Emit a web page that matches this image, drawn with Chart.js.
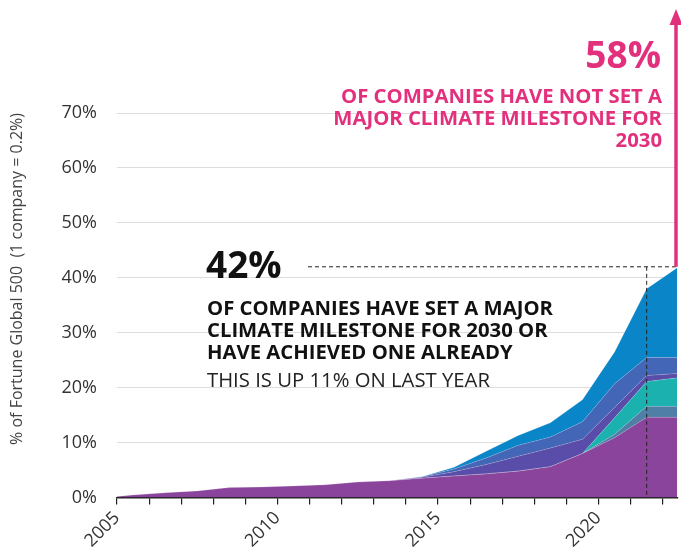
<!DOCTYPE html>
<html>
<head>
<meta charset="utf-8">
<script src="https://cdn.jsdelivr.net/npm/chart.js@4/dist/chart.umd.min.js"></script>
<style>
    html, body { margin: 0; padding: 0; background: #fff; }
    #wrap { width: 681px; height: 560px; position: relative; }
</style>
</head>
<body>
<div id="wrap"><canvas id="chartMilestones"></canvas></div>
<script>
// Anos (pontos do gráfico) e séries empilhadas, em % das empresas
const anos = [2005, 2005.5, 2006.5, 2007.5, 2008.5, 2009.5, 2010.5, 2011.5, 2012.5, 2013.5, 2014.5, 2015.5, 2016.5, 2017.5, 2018.5, 2019.5, 2020.5, 2021.5, 2022.5];
const serieRoxa = [0.2, 0.45, 0.85, 1.2, 1.8, 1.9, 2.1, 2.3, 2.8, 3.05, 3.5, 3.9, 4.3, 4.8, 5.6, 8.0, 10.9, 14.6, 14.6];
const serieAco = [0, 0, 0, 0, 0, 0, 0, 0, 0, 0, 0, 0, 0, 0, 0, 0, 0.6, 2.0, 2.0];
const serieTurquesa = [0, 0, 0, 0, 0, 0, 0, 0, 0, 0, 0, 0, 0, 0, 0, 0, 3.0, 4.5, 5.2];
const serieIndigo = [0, 0, 0, 0, 0, 0, 0, 0, 0, 0, 0.2, 0.8, 1.7, 2.7, 3.4, 2.6, 1.9, 1.1, 0.8];
const serieAzulMedio = [0, 0, 0, 0, 0, 0, 0, 0, 0, 0, 0.1, 0.5, 1.2, 2.0, 2.0, 3.2, 4.3, 3.3, 2.9];
const serieAzul = [0, 0, 0, 0, 0, 0, 0, 0, 0, 0, 0, 0.3, 1.2, 1.8, 2.6, 4.0, 5.8, 12.5, 16.5];

const ticksY = [0, 10, 20, 30, 40, 50, 60, 70];
const anosRotulados = [2005, 2010, 2015, 2020];

const series = [
    { nome: "roxo", valores: serieRoxa, cor: "#8A449B" },
    { nome: "aco", valores: serieAco, cor: "#4F7FA6" },
    { nome: "turquesa", valores: serieTurquesa, cor: "#1AB1AE" },
    { nome: "indigo", valores: serieIndigo, cor: "#5A4DA9" },
    { nome: "azulMedio", valores: serieAzulMedio, cor: "#4466B6" },
    { nome: "azul", valores: serieAzul, cor: "#0A85C7" }
];

const fonte = "'Open Sans', 'Noto Sans', sans-serif";
const rosa = "#E3307C";

// Plugin simples para as anotações (textos, linhas tracejadas e seta)
const anotacoes = {
    id: "anotacoes",
    afterDatasetsDraw(chart) {
        const ctx = chart.ctx;
        const x = chart.scales.x;
        const y = chart.scales.y;
        const y42 = y.getPixelForValue(42);
        const xMarco = x.getPixelForValue(2021.5);

        ctx.save();
        // Linhas tracejadas
        ctx.strokeStyle = "#222";
        ctx.lineWidth = 1;
        ctx.setLineDash([4, 3]);
        ctx.beginPath();
        ctx.moveTo(308, y42);
        ctx.lineTo(chart.chartArea.right, y42);
        ctx.moveTo(xMarco, y42);
        ctx.lineTo(xMarco, y.getPixelForValue(0));
        ctx.stroke();
        ctx.setLineDash([]);

        // Texto preto
        ctx.fillStyle = "#111";
        ctx.textAlign = "left";
        ctx.textBaseline = "alphabetic";
        ctx.font = "bold 37px " + fonte;
        ctx.fillText("42%", 206, 278);
        ctx.font = "bold 20.3px " + fonte;
        ctx.fillText("OF COMPANIES HAVE SET A MAJOR", 207, 315);
        ctx.fillText("CLIMATE MILESTONE FOR 2030 OR", 207, 337);
        ctx.fillText("HAVE ACHIEVED ONE ALREADY", 207, 359);
        ctx.fillStyle = "#222";
        ctx.font = "20.3px " + fonte;
        ctx.fillText("THIS IS UP 11% ON LAST YEAR", 207, 387);

        // Texto rosa
        ctx.fillStyle = rosa;
        ctx.textAlign = "right";
        ctx.font = "bold 37px " + fonte;
        ctx.fillText("58%", 661, 68);
        ctx.font = "bold 20.3px " + fonte;
        ctx.fillText("OF COMPANIES HAVE NOT SET A", 662, 103);
        ctx.fillText("MAJOR CLIMATE MILESTONE FOR", 662, 125);
        ctx.fillText("2030", 662, 147);

        // Seta rosa
        const xs = 676;
        ctx.strokeStyle = rosa;
        ctx.lineWidth = 3.5;
        ctx.beginPath();
        ctx.moveTo(xs, 22);
        ctx.lineTo(xs, y42);
        ctx.stroke();
        ctx.beginPath();
        ctx.moveTo(xs, 9);
        ctx.lineTo(xs - 6.5, 25);
        ctx.lineTo(xs + 6.5, 25);
        ctx.closePath();
        ctx.fill();
        ctx.restore();
    }
};

const datasets = series.map((s, i) => ({
    label: s.nome,
    data: anos.map((ano, j) => ({ x: ano, y: s.valores[j] })),
    backgroundColor: s.cor,
    borderColor: "rgba(255, 255, 255, 0.22)",
    borderWidth: 0.8,
    pointRadius: 0,
    tension: 0,
    fill: i === 0 ? "origin" : "-1"
}));

const ctxGrafico = document.getElementById("chartMilestones").getContext("2d");
new Chart(ctxGrafico, {
    type: "line",
    data: { datasets: datasets },
    plugins: [anotacoes],
    options: {
        responsive: true,
        maintainAspectRatio: false,
        animation: false,
        layout: { padding: { top: 113, right: 0, left: 0, bottom: 0 } },
        plugins: {
            legend: { display: false },
            tooltip: { enabled: false }
        },
        scales: {
            x: {
                type: "linear",
                min: 2005,
                max: 2022.45,
                afterFit: (s) => { s.height = 62.5; },
                afterBuildTicks: (s) => {
                    const t = [];
                    for (let a = 2005; a <= 2022; a++) t.push({ value: a });
                    s.ticks = t;
                },
                border: { display: true, color: "#222", width: 1.5 },
                grid: {
                    drawOnChartArea: false,
                    drawTicks: true,
                    tickLength: 7,
                    color: "#222",
                    lineWidth: 1.2
                },
                ticks: {
                    autoSkip: false,
                    minRotation: 45,
                    maxRotation: 45,
                    padding: 3,
                    color: "#333",
                    font: { family: fonte, size: 18 },
                    callback: (v) => anosRotulados.includes(v) ? String(v) : ""
                }
            },
            y: {
                stacked: true,
                min: 0,
                max: 70,
                afterFit: (s) => { s.width = 117; },
                afterBuildTicks: (s) => { s.ticks = ticksY.map(v => ({ value: v })); },
                border: { display: false },
                grid: {
                    drawTicks: false,
                    color: (c) => c.tick && c.tick.value === 0 ? "rgba(0,0,0,0)" : "#DDDDDD",
                    lineWidth: 1
                },
                ticks: {
                    padding: 20,
                    color: "#333",
                    font: { family: fonte, size: 18 },
                    callback: (v) => v + "%"
                },
                title: {
                    display: true,
                    text: "% of Fortune Global 500  (1 company = 0.2%)",
                    align: "end",
                    color: "#444",
                    font: { family: fonte, size: 16 },
                    padding: { top: 8, bottom: 0 }
                }
            }
        }
    }
});
</script>
</body>
</html>
